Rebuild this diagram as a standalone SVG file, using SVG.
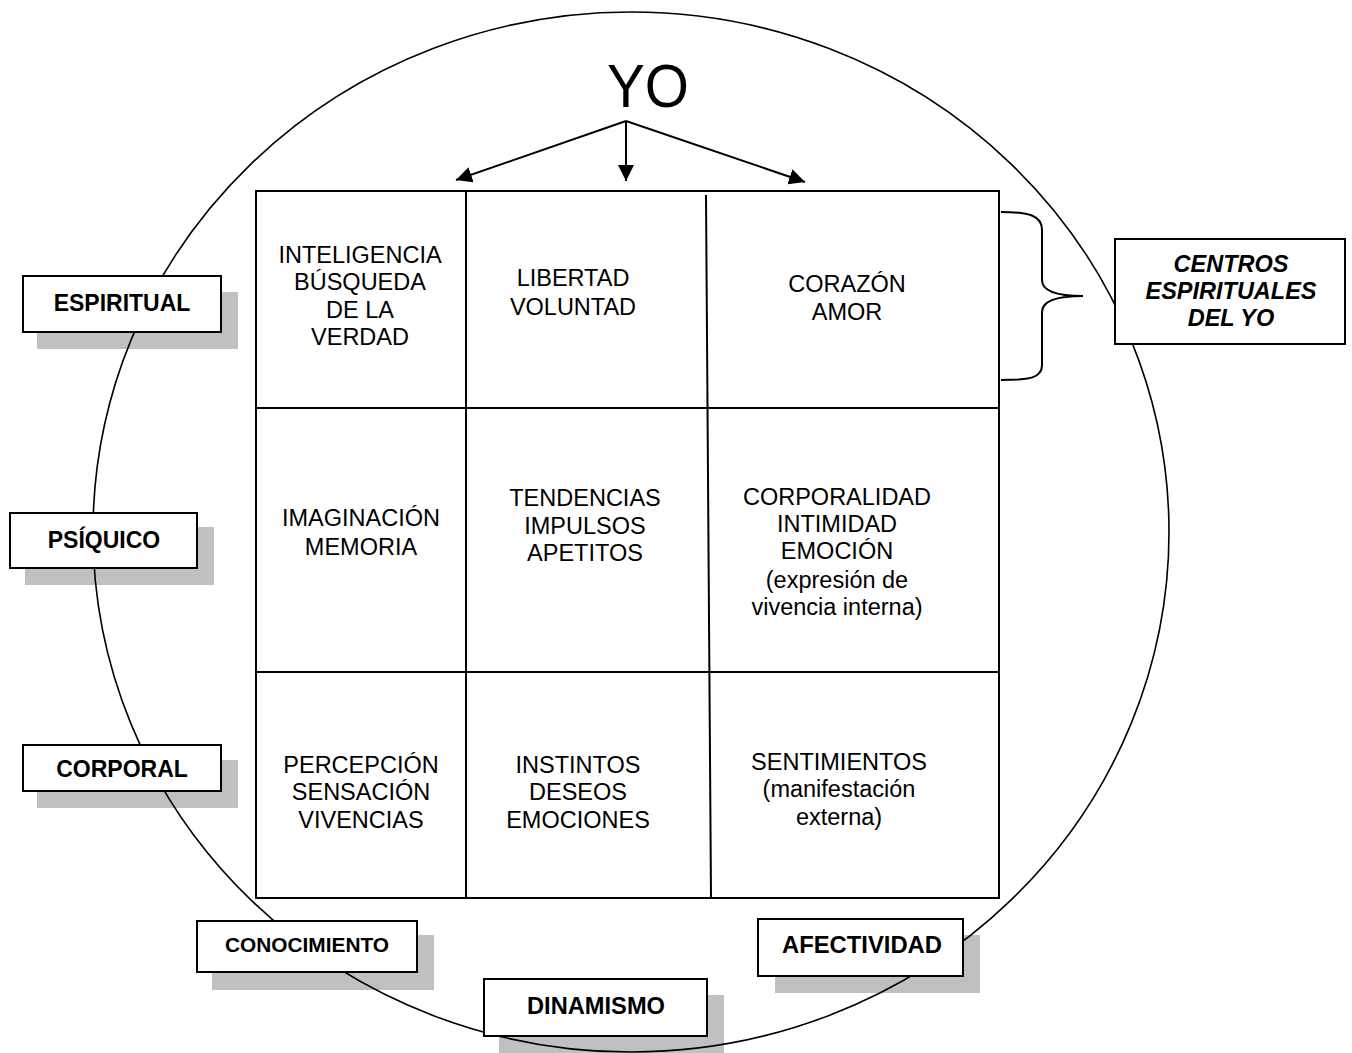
<svg xmlns="http://www.w3.org/2000/svg" width="1352" height="1053" viewBox="0 0 1352 1053">
<defs>
<style>
.bg{fill:#ffffff}
.shadow{fill:#c0c0c0}
.box{fill:#ffffff;stroke:#000;stroke-width:2}
.ln{stroke:#000;stroke-width:2;fill:none}
.cell{font-family:"Liberation Sans",Arial,sans-serif;font-size:23.5px;text-anchor:middle;fill:#000}
.lab{font-family:"Liberation Sans",Arial,sans-serif;font-size:23px;font-weight:bold;text-anchor:middle;fill:#000}
.labi{font-family:"Liberation Sans",Arial,sans-serif;font-size:23.5px;font-weight:bold;font-style:italic;text-anchor:middle;fill:#000}
.yo{font-family:"Liberation Sans",Arial,sans-serif;font-size:62px;text-anchor:middle;fill:#000}
</style>
<marker id="ah" markerUnits="userSpaceOnUse" markerWidth="18" markerHeight="16" refX="16" refY="8" orient="auto">
<path d="M0,0 L16,8 L0,16 Z" fill="#000"/>
</marker>
</defs>
<rect class="bg" x="0" y="0" width="1352" height="1053"/>

<g id="shadows">
<rect class="shadow" x="37" y="292" width="201" height="57"/>
<rect class="shadow" x="25" y="527" width="189" height="58"/>
<rect class="shadow" x="37" y="760" width="201" height="48"/>
<rect class="shadow" x="212" y="935" width="222" height="55"/>
<rect class="shadow" x="499" y="995" width="225" height="58"/>
<rect class="shadow" x="775" y="935" width="205" height="58"/>
</g>

<g id="circle">
<ellipse cx="631" cy="532" rx="538" ry="520" fill="none" stroke="#000" stroke-width="1.6"/>
</g>

<g id="yo">
<text class="yo" x="648" y="107" textLength="82" lengthAdjust="spacingAndGlyphs">YO</text>
</g>

<g id="connectors">
<line class="ln" x1="626" y1="121" x2="456" y2="180" marker-end="url(#ah)"/>
<line class="ln" x1="626" y1="121" x2="626" y2="181" marker-end="url(#ah)"/>
<line class="ln" x1="626" y1="121" x2="805" y2="182" marker-end="url(#ah)"/>
<path class="ln" d="M1001,212 C1030,212 1042,216 1042,230 L1042,280 C1042,292 1060,296 1083,296 C1060,296 1042,300 1042,312 L1042,365 C1042,378 1030,380 1001,380"/>
</g>

<g id="grid">
<rect x="256" y="191" width="743" height="707" fill="none" stroke="#000" stroke-width="2"/>
<line class="ln" x1="466" y1="191" x2="466" y2="898"/>
<line class="ln" x1="706" y1="195" x2="711" y2="898"/>
<line class="ln" x1="256" y1="408" x2="999" y2="408"/>
<line class="ln" x1="256" y1="672" x2="999" y2="672"/>
</g>

<g id="c11"><text class="cell" x="360" y="263">INTELIGENCIA</text><text class="cell" x="360" y="290">BÚSQUEDA</text><text class="cell" x="360" y="318">DE LA</text><text class="cell" x="360" y="345">VERDAD</text></g>
<g id="c12"><text class="cell" x="573" y="286">LIBERTAD</text><text class="cell" x="573" y="315">VOLUNTAD</text></g>
<g id="c13"><text class="cell" x="847" y="292">CORAZÓN</text><text class="cell" x="847" y="320">AMOR</text></g>
<g id="c21"><text class="cell" x="361" y="526">IMAGINACIÓN</text><text class="cell" x="361" y="555">MEMORIA</text></g>
<g id="c22"><text class="cell" x="585" y="506">TENDENCIAS</text><text class="cell" x="585" y="534">IMPULSOS</text><text class="cell" x="585" y="561">APETITOS</text></g>
<g id="c23"><text class="cell" x="837" y="505">CORPORALIDAD</text><text class="cell" x="837" y="532">INTIMIDAD</text><text class="cell" x="837" y="559">EMOCIÓN</text><text class="cell" x="837" y="588">(expresión de</text><text class="cell" x="837" y="615">vivencia interna)</text></g>
<g id="c31"><text class="cell" x="361" y="773">PERCEPCIÓN</text><text class="cell" x="361" y="800">SENSACIÓN</text><text class="cell" x="361" y="828">VIVENCIAS</text></g>
<g id="c32"><text class="cell" x="578" y="773">INSTINTOS</text><text class="cell" x="578" y="800">DESEOS</text><text class="cell" x="578" y="828">EMOCIONES</text></g>
<g id="c33"><text class="cell" x="839" y="770">SENTIMIENTOS</text><text class="cell" x="839" y="797">(manifestación</text><text class="cell" x="839" y="825">externa)</text></g>

<g id="espiritual"><rect class="box" x="23" y="276" width="198" height="56"/><text class="lab" x="122" y="311">ESPIRITUAL</text></g>
<g id="psiquico"><rect class="box" x="10" y="513" width="187" height="55"/><text class="lab" x="104" y="548">PSÍQUICO</text></g>
<g id="corporal"><rect class="box" x="23" y="745" width="198" height="46"/><text class="lab" x="122" y="777">CORPORAL</text></g>
<g id="conocimiento"><rect class="box" x="197" y="921" width="220" height="51"/><text class="lab" x="307" y="952" style="font-size:20px" textLength="164" lengthAdjust="spacingAndGlyphs">CONOCIMIENTO</text></g>
<g id="dinamismo"><rect class="box" x="484" y="979" width="223" height="57"/><text class="lab" x="596" y="1014" style="font-size:23px" textLength="138" lengthAdjust="spacingAndGlyphs">DINAMISMO</text></g>
<g id="afectividad"><rect class="box" x="758" y="919" width="205" height="57"/><text class="lab" x="862" y="953" style="font-size:23px" textLength="160" lengthAdjust="spacingAndGlyphs">AFECTIVIDAD</text></g>
<g id="centros"><rect class="box" x="1115" y="239" width="230" height="105"/><text class="labi" x="1231" y="272">CENTROS</text><text class="labi" x="1231" y="299">ESPIRITUALES</text><text class="labi" x="1231" y="326">DEL YO</text></g>
</svg>
